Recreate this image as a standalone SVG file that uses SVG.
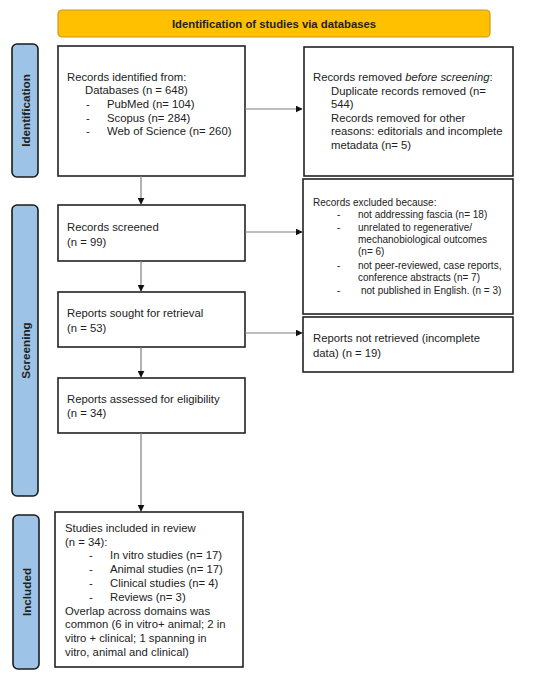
<svg xmlns="http://www.w3.org/2000/svg" width="550" height="676" viewBox="0 0 550 676">
<defs>
<style>
text{font-family:"Liberation Sans",Arial,sans-serif;font-size:11.3px;fill:#222}
.sm{font-size:10px}
.b{font-weight:bold}
.box{fill:#fff;stroke:#222;stroke-width:1.6}
.side{fill:#9DC3E6;stroke:#1b1b1b;stroke-width:1.6}
.conn{stroke:#7f7f7f;stroke-width:1.2;fill:none;marker-end:url(#ah)}
</style>
<marker id="ah" viewBox="0 0 10 10" refX="9" refY="5" markerWidth="7" markerHeight="7" orient="auto" markerUnits="userSpaceOnUse">
<path d="M0,0L10,5L0,10z" fill="#111"/>
</marker>
</defs>
<rect width="550" height="676" fill="#fff"/>

<g id="header">
<rect x="58" y="10" width="432" height="27" rx="4" fill="#FFC000" stroke="#C99A1E" stroke-width="1.2"/>
<text class="b" x="274" y="27.5" text-anchor="middle">Identification of studies via databases</text>
</g>

<g id="label-identification">
<rect class="side" x="12" y="44" width="26" height="133" rx="5"/>
<text class="b" style="font-size:11.7px" transform="translate(29.5,110.5) rotate(-90)" text-anchor="middle">Identification</text>
</g>
<g id="label-screening">
<rect class="side" x="12" y="205" width="26" height="291" rx="5"/>
<text class="b" style="font-size:11.7px" transform="translate(29.5,350.5) rotate(-90)" text-anchor="middle">Screening</text>
</g>
<g id="label-included">
<rect class="side" x="13" y="515" width="26" height="154" rx="5"/>
<text class="b" style="font-size:11.7px" transform="translate(30.5,592) rotate(-90)" text-anchor="middle">Included</text>
</g>

<g id="records-identified">
<rect class="box" x="58" y="46" width="187" height="130"/>
<text x="67" y="81">Records identified from:</text>
<text x="85" y="93.5">Databases (n = 648)</text>
<text x="86" y="108">-</text><text x="107" y="108">PubMed (n= 104)</text>
<text x="86" y="121.5">-</text><text x="107" y="121.5">Scopus (n= 284)</text>
<text x="86" y="135">-</text><text x="107" y="135">Web of Science (n= 260)</text>
</g>

<g id="records-removed">
<rect class="box" x="304" y="47" width="209" height="129"/>
<text x="313" y="81">Records removed <tspan font-style="italic">before screening</tspan>:</text>
<text x="331" y="94.5">Duplicate records removed (n=</text>
<text x="331" y="108">544)</text>
<text x="331" y="121.5">Records removed for other</text>
<text x="331" y="135">reasons: editorials and incomplete</text>
<text x="331" y="148.5">metadata (n= 5)</text>
</g>

<g id="records-screened">
<rect class="box" x="58" y="205" width="187" height="56"/>
<text x="67" y="231">Records screened</text>
<text x="67" y="246">(n = 99)</text>
</g>

<g id="records-excluded">
<rect class="box" x="303" y="179" width="210" height="135"/>
<text class="sm" x="313" y="206">Records excluded because:</text>
<text class="sm" x="337" y="217.5">-</text><text class="sm" x="358" y="217.5">not addressing fascia (n= 18)</text>
<text class="sm" x="337" y="231">-</text><text class="sm" x="358" y="231">unrelated to regenerative/</text>
<text class="sm" x="358" y="242.5">mechanobiological outcomes</text>
<text class="sm" x="358" y="255">(n= 6)</text>
<text class="sm" x="337" y="268.5">-</text><text class="sm" x="358" y="268.5">not peer-reviewed, case reports,</text>
<text class="sm" x="358" y="280.5">conference abstracts (n= 7)</text>
<text class="sm" x="337" y="293.5">-</text><text class="sm" x="361" y="293.5">not published in English. (n = 3)</text>
</g>

<g id="reports-sought">
<rect class="box" x="58" y="292" width="187" height="55"/>
<text x="67" y="317">Reports sought for retrieval</text>
<text x="67" y="332">(n = 53)</text>
</g>

<g id="reports-not-retrieved">
<rect class="box" x="303" y="317" width="210" height="55"/>
<text x="313" y="342">Reports not retrieved (incomplete</text>
<text x="313" y="357">data) (n = 19)</text>
</g>

<g id="reports-assessed">
<rect class="box" x="58" y="378" width="187" height="55"/>
<text x="67" y="403">Reports assessed for eligibility</text>
<text x="67" y="417">(n = 34)</text>
</g>

<g id="studies-included">
<rect class="box" x="55" y="512" width="188" height="155"/>
<text x="65" y="531.5">Studies included in review</text>
<text x="65" y="545.5">(n = 34):</text>
<text x="89" y="559">-</text><text x="110" y="559">In vitro studies (n= 17)</text>
<text x="89" y="573">-</text><text x="110" y="573">Animal studies (n= 17)</text>
<text x="89" y="587">-</text><text x="110" y="587">Clinical studies (n= 4)</text>
<text x="89" y="600.5">-</text><text x="110" y="600.5">Reviews (n= 3)</text>
<text x="65" y="614.5">Overlap across domains was</text>
<text x="65" y="628">common (6 in vitro+ animal; 2 in</text>
<text x="65" y="642">vitro + clinical; 1 spanning in</text>
<text x="65" y="656">vitro, animal and clinical)</text>
</g>

<g id="connectors">
<line class="conn" x1="245" y1="109" x2="302" y2="109"/>
<line class="conn" x1="141" y1="176" x2="141" y2="204"/>
<line class="conn" x1="245" y1="232" x2="302" y2="232"/>
<line class="conn" x1="141" y1="261" x2="141" y2="291"/>
<line class="conn" x1="245" y1="333" x2="302" y2="333"/>
<line class="conn" x1="141" y1="347" x2="141" y2="377"/>
<line class="conn" x1="141" y1="433" x2="141" y2="511"/>
</g>
</svg>
